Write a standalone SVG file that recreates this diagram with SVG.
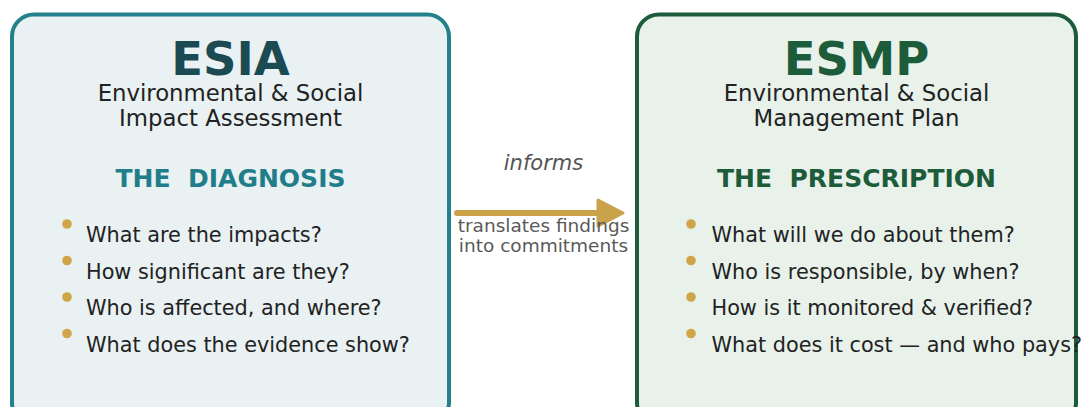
<svg xmlns="http://www.w3.org/2000/svg" width="1082" height="407" viewBox="0 0 1082 407">
  <style>
    text { font-family: "DejaVu Sans", "Liberation Sans", sans-serif; }
    .title { font-size: 46.5px; font-weight: bold; text-anchor: middle; }
    .sub { font-size: 22.8px; fill: #222222; text-anchor: middle; }
    .head { font-size: 25px; font-weight: bold; text-anchor: middle; white-space: pre; }
    .item { font-size: 20.8px; fill: #222222; }
    .dot { fill: #cfa548; }
    .note { font-size: 18.5px; fill: #5a5a5a; text-anchor: middle; }
  </style>

  <rect width="1082" height="407" fill="#ffffff"/>

  <!-- ESIA panel -->
  <g id="esia">
    <rect x="12" y="14.5" width="437" height="410" rx="22" ry="22" fill="#e9f1f3" stroke="#23808d" stroke-width="4"/>
    <text class="title" x="230.5" y="75" fill="#1b4a52">ESIA</text>
    <text class="sub" x="230.5" y="101">Environmental &amp; Social</text>
    <text class="sub" x="230.5" y="126">Impact Assessment</text>
    <text class="head" x="230.5" y="187" fill="#227d8a">THE  DIAGNOSIS</text>
    <circle class="dot" cx="67" cy="224" r="4.8"/>
    <circle class="dot" cx="67" cy="260.5" r="4.8"/>
    <circle class="dot" cx="67" cy="297" r="4.8"/>
    <circle class="dot" cx="67" cy="333.5" r="4.8"/>
    <text class="item" x="86" y="242">What are the impacts?</text>
    <text class="item" x="86" y="278.5">How significant are they?</text>
    <text class="item" x="86" y="315">Who is affected, and where?</text>
    <text class="item" x="86" y="351.5">What does the evidence show?</text>
  </g>

  <!-- ESMP panel -->
  <g id="esmp">
    <rect x="637" y="14.5" width="439" height="410" rx="22" ry="22" fill="#e8f2eb" stroke="#1d5c3a" stroke-width="4"/>
    <text class="title" x="856.5" y="75" fill="#1d5c3a">ESMP</text>
    <text class="sub" x="856.5" y="101">Environmental &amp; Social</text>
    <text class="sub" x="856.5" y="126">Management Plan</text>
    <text class="head" x="856.5" y="187" fill="#1d5c3a">THE  PRESCRIPTION</text>
    <circle class="dot" cx="691" cy="224" r="4.8"/>
    <circle class="dot" cx="691" cy="260.5" r="4.8"/>
    <circle class="dot" cx="691" cy="297" r="4.8"/>
    <circle class="dot" cx="691" cy="333.5" r="4.8"/>
    <text class="item" x="711.5" y="242">What will we do about them?</text>
    <text class="item" x="711.5" y="278.5">Who is responsible, by when?</text>
    <text class="item" x="711.5" y="315">How is it monitored &amp; verified?</text>
    <text class="item" x="711.5" y="351.5">What does it cost — and who pays?</text>
  </g>

  <!-- link between the panels -->
  <g id="connectors">
    <line x1="457" y1="213" x2="602" y2="213" stroke="#c9a24a" stroke-width="6" stroke-linecap="round"/>
    <path d="M598 200 L623 213 L598 226 Z" fill="#c9a24a" stroke="#c9a24a" stroke-width="3" stroke-linejoin="round"/>
    <text x="543.5" y="170" font-size="21" font-style="italic" fill="#555555" text-anchor="middle" font-family="DejaVu Sans, sans-serif">informs</text>
    <text class="note" x="543.5" y="232">translates findings</text>
    <text class="note" x="543.5" y="252">into commitments</text>
  </g>
</svg>
